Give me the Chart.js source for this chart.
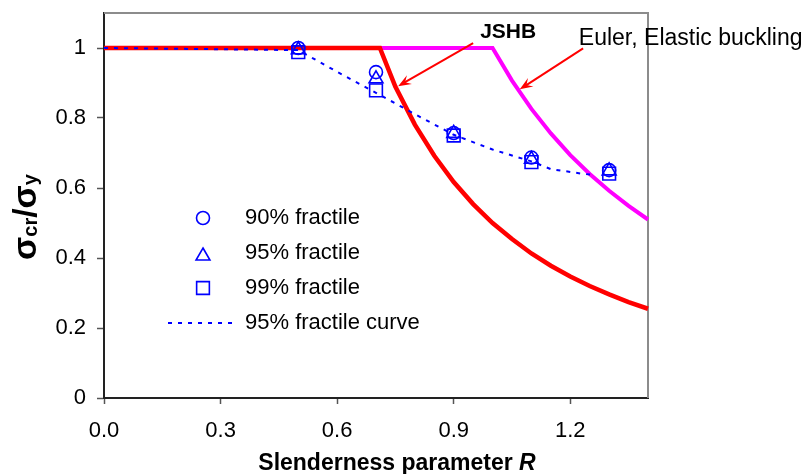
<!DOCTYPE html>
<html>
<head>
<meta charset="utf-8">
<script src="https://cdn.jsdelivr.net/npm/chart.js@4"></script>
<style>
  html, body { margin: 0; padding: 0; background: #fff; }
  #wrap { width: 812px; height: 474px; }
</style>
</head>
<body>
<div id="wrap"><canvas id="grafico" width="812" height="474"></canvas></div>
<script>
const FONT = "'Liberation Sans', Arial, sans-serif";

// ticks
const xTicks = [0, 0.3, 0.6, 0.9, 1.2];
const yTicks = [0, 0.2, 0.4, 0.6, 0.8, 1];

// JSHB design curve
const rJshb = [0, 0.71, 0.75, 0.8, 0.85, 0.9, 0.95, 1.0, 1.05, 1.1, 1.15, 1.2, 1.25, 1.3, 1.35, 1.4, 1.422];
const jshb  = [1, 1, 0.889, 0.781, 0.692, 0.617, 0.554, 0.5, 0.454, 0.413, 0.378, 0.347, 0.32, 0.296, 0.274, 0.255, 0.248];

// Euler elastic buckling
const rEuler = [0, 1.0, 1.05, 1.1, 1.15, 1.2, 1.25, 1.3, 1.35, 1.4, 1.422];
const euler  = [1, 1, 0.907, 0.826, 0.756, 0.694, 0.64, 0.592, 0.549, 0.51, 0.494];

// 95% fractile curve (dotted)
const rFit = [0, 0.5, 0.6, 0.7, 0.8, 0.9, 1.0, 1.1, 1.15, 1.23, 1.262];
const fit  = [1, 0.994, 0.932, 0.872, 0.811, 0.752, 0.71, 0.676, 0.654, 0.641, 0.637];

// fractile points
const rPts = [0.5, 0.7, 0.9, 1.1, 1.3];
const p90 = [1.0, 0.931, 0.757, 0.687, 0.651];
const p95 = [0.995, 0.912, 0.756, 0.682, 0.649];
const p99 = [0.988, 0.879, 0.75, 0.674, 0.641];

const leyenda = [
  { label: "90% fractile", tipo: "circle" },
  { label: "95% fractile", tipo: "triangle" },
  { label: "99% fractile", tipo: "rect" },
  { label: "95% fractile curve", tipo: "dash" }
];

const pares = (xs, ys) => xs.map((x, i) => ({ x: x, y: ys[i] }));
const AZUL = "#0000ff";

function marcador(ctx, tipo, x, y, r) {
  ctx.beginPath();
  if (tipo === "circle") {
    ctx.arc(x, y, r, 0, Math.PI * 2);
  } else if (tipo === "triangle") {
    ctx.moveTo(x, y - r);
    ctx.lineTo(x + r * 0.866, y + r / 2);
    ctx.lineTo(x - r * 0.866, y + r / 2);
    ctx.closePath();
  } else {
    const s = r * Math.SQRT1_2;
    ctx.rect(x - s, y - s, 2 * s, 2 * s);
  }
  ctx.stroke();
}

function flecha(ctx, x1, y1, x2, y2) {
  const ang = Math.atan2(y2 - y1, x2 - x1);
  const largo = 13, ancho = 5;
  ctx.beginPath();
  ctx.moveTo(x1, y1);
  ctx.lineTo(x2 - Math.cos(ang) * 6, y2 - Math.sin(ang) * 6);
  ctx.stroke();
  ctx.beginPath();
  ctx.moveTo(x2, y2);
  ctx.lineTo(x2 - Math.cos(ang) * largo - Math.sin(ang) * ancho, y2 - Math.sin(ang) * largo + Math.cos(ang) * ancho);
  ctx.lineTo(x2 - Math.cos(ang) * 8, y2 - Math.sin(ang) * 8);
  ctx.lineTo(x2 - Math.cos(ang) * largo + Math.sin(ang) * ancho, y2 - Math.sin(ang) * largo - Math.cos(ang) * ancho);
  ctx.closePath();
  ctx.fill();
}

const extras = {
  id: "extras",
  beforeDatasetsDraw(chart) {
    const { ctx, chartArea: a } = chart;
    ctx.save();
    ctx.strokeStyle = "#8c8c8c";
    ctx.lineWidth = 2;
    ctx.beginPath();
    ctx.moveTo(a.left, a.top);
    ctx.lineTo(a.right, a.top);
    ctx.lineTo(a.right, a.bottom);
    ctx.stroke();
    ctx.restore();
  },
  afterDraw(chart) {
    const { ctx, chartArea: a } = chart;
    const xs = chart.scales.x, ys = chart.scales.y;
    ctx.save();

    // arrows
    ctx.strokeStyle = "#ff0000";
    ctx.fillStyle = "#ff0000";
    ctx.lineWidth = 2;
    flecha(ctx, xs.getPixelForValue(0.95), ys.getPixelForValue(1.014), xs.getPixelForValue(0.757), ys.getPixelForValue(0.891));
    flecha(ctx, xs.getPixelForValue(1.233), ys.getPixelForValue(0.999), xs.getPixelForValue(1.07), ys.getPixelForValue(0.882));

    // annotations
    ctx.fillStyle = "#000";
    ctx.textBaseline = "alphabetic";
    ctx.textAlign = "left";
    ctx.font = "bold 21px " + FONT;
    ctx.fillText("JSHB", xs.getPixelForValue(0.968), ys.getPixelForValue(1.028));
    ctx.font = "23px " + FONT;
    ctx.fillText("Euler, Elastic buckling", xs.getPixelForValue(1.222), ys.getPixelForValue(1.008));

    // legend
    const mx = a.left + 99, tx = a.left + 141;
    leyenda.forEach((item, i) => {
      const y = a.top + 205 + i * 35;
      ctx.strokeStyle = AZUL;
      ctx.lineWidth = 1.6;
      if (item.tipo === "circle") marcador(ctx, "circle", mx, y, 6.5);
      if (item.tipo === "triangle") marcador(ctx, "triangle", mx, y + 3, 8);
      if (item.tipo === "rect") marcador(ctx, "rect", mx, y, 9);
      if (item.tipo === "dash") {
        ctx.lineWidth = 2;
        ctx.setLineDash([4, 6]);
        ctx.beginPath();
        ctx.moveTo(a.left + 64, y);
        ctx.lineTo(a.left + 132, y);
        ctx.stroke();
        ctx.setLineDash([]);
      }
      ctx.fillStyle = "#000";
      ctx.font = "22px " + FONT;
      ctx.textBaseline = "middle";
      ctx.fillText(item.label, tx, y);
    });

    // x title
    ctx.textBaseline = "alphabetic";
    const t1 = "Slenderness parameter ", t2 = "R";
    ctx.font = "bold 23px " + FONT;
    const w1 = ctx.measureText(t1).width;
    ctx.font = "italic bold 23px " + FONT;
    const w2 = ctx.measureText(t2).width;
    let x0 = (a.left + a.right) / 2 + 21 - (w1 + w2) / 2;
    ctx.font = "bold 23px " + FONT;
    ctx.fillText(t1, x0, 470);
    ctx.font = "italic bold 23px " + FONT;
    ctx.fillText(t2, x0 + w1, 470);

    // y title  σcr/σy
    const partes = [["σ", 34, 0], ["cr", 20, 1], ["/", 34, 0], ["σ", 34, 0], ["y", 20, 1]];
    ctx.save();
    ctx.translate(36, 217);
    ctx.rotate(-Math.PI / 2);
    let total = 0;
    partes.forEach(p => { ctx.font = "bold " + p[1] + "px " + FONT; total += ctx.measureText(p[0]).width; });
    let px = -total / 2;
    partes.forEach(p => {
      ctx.font = "bold " + p[1] + "px " + FONT;
      ctx.fillText(p[0], px, p[2]);
      px += ctx.measureText(p[0]).width;
    });
    ctx.restore();

    ctx.restore();
  }
};

const ctx = document.getElementById("grafico").getContext("2d");
const chart = new Chart(ctx, {
  type: "scatter",
  data: {
    datasets: [
      {
        label: "Euler",
        data: pares(rEuler, euler),
        showLine: true,
        borderColor: "#ff00ff",
        borderWidth: 4,
        pointRadius: 0,
        clip: { left: 2, top: 2, right: 12, bottom: 2 },
        order: 6
      },
      {
        label: "JSHB",
        data: pares(rJshb, jshb),
        showLine: true,
        borderColor: "#ff0000",
        borderWidth: 4.5,
        pointRadius: 0,
        clip: { left: 2, top: 2, right: 12, bottom: 2 },
        order: 5
      },
      {
        label: "95% fractile curve",
        data: pares(rFit, fit),
        showLine: true,
        borderColor: AZUL,
        borderWidth: 2,
        borderDash: [4, 6],
        pointRadius: 0,
        order: 4
      },
      {
        label: "99% fractile",
        data: pares(rPts, p99),
        pointStyle: "rect",
        pointRadius: 9,
        borderColor: AZUL,
        backgroundColor: "rgba(0,0,0,0)",
        borderWidth: 1.6,
        order: 3
      },
      {
        label: "95% fractile",
        data: pares(rPts, p95),
        pointStyle: "triangle",
        pointRadius: 8,
        borderColor: AZUL,
        backgroundColor: "rgba(0,0,0,0)",
        borderWidth: 1.6,
        order: 2
      },
      {
        label: "90% fractile",
        data: pares(rPts, p90),
        pointStyle: "circle",
        pointRadius: 6.5,
        borderColor: AZUL,
        backgroundColor: "rgba(0,0,0,0)",
        borderWidth: 1.6,
        order: 1
      }
    ]
  },
  options: {
    responsive: false,
    animation: false,
    layout: { padding: { left: 0, top: 13, right: 164, bottom: 0 } },
    plugins: {
      legend: { display: false },
      tooltip: { enabled: false }
    },
    scales: {
      x: {
        type: "linear",
        min: 0,
        max: 1.4,
        afterBuildTicks: s => { s.ticks = xTicks.map(v => ({ value: v })); },
        afterFit: s => { s.height = 76; s.paddingLeft = 0; s.paddingRight = 0; },
        ticks: {
          color: "#000",
          font: { family: FONT, size: 22 },
          padding: 14,
          maxRotation: 0,
          autoSkip: false,
          callback: v => v.toFixed(1)
        },
        grid: { drawOnChartArea: false, tickLength: 6, tickColor: "#555", tickWidth: 1.5 },
        border: { color: "#222", width: 2 }
      },
      y: {
        min: 0,
        max: 1.1,
        afterBuildTicks: s => { s.ticks = yTicks.map(v => ({ value: v })); },
        afterFit: s => { s.width = 104; s.paddingTop = 0; s.paddingBottom = 0; },
        ticks: {
          color: "#000",
          font: { family: FONT, size: 22 },
          padding: 11,
          autoSkip: false,
          callback: v => String(v)
        },
        grid: { drawOnChartArea: false, tickLength: 7, tickColor: "#555", tickWidth: 1.5 },
        border: { color: "#222", width: 2 }
      }
    }
  },
  plugins: [extras]
});
</script>
</body>
</html>
